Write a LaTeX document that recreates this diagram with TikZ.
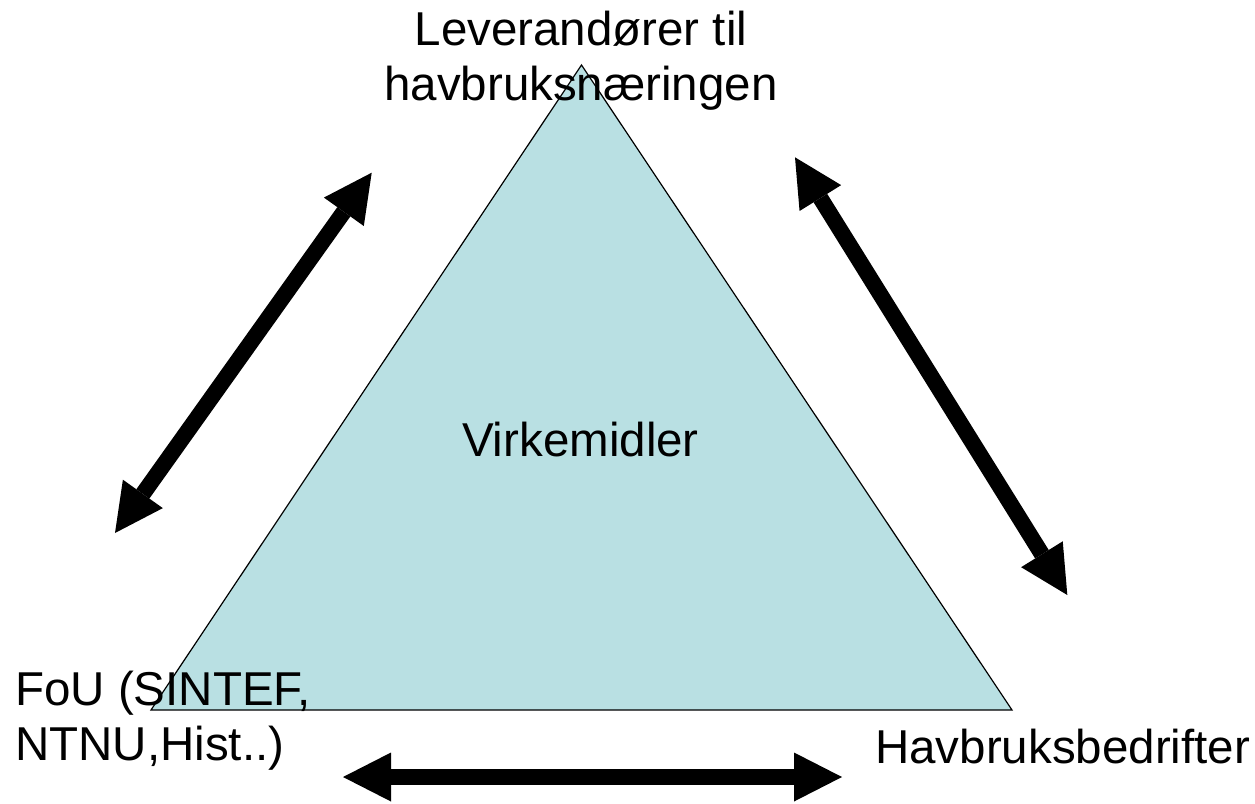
\documentclass[tikz,border=0pt]{standalone}
\usepackage{fontspec}
\setmainfont{Liberation Sans}
\usetikzlibrary{arrows.meta}
\definecolor{trifill}{RGB}{185,224,227}
\tikzset{
  lbl/.style={inner sep=0pt, font=\fontsize{47.5}{54.5}\selectfont},
  dblarrow/.style={line width=16pt,
    {Triangle[length=48pt,width=49pt,line width=0pt]}-{Triangle[length=48pt,width=49pt,line width=0pt]}},
  tri/.style={draw=black, line width=1.2pt, fill=trifill, line join=miter}
}
\begin{document}
\begin{tikzpicture}[x=1pt,y=-1pt]
\useasboundingbox (0,0) rectangle (1255,803);
% triangle
\coordinate (apex) at (581.5,65);
\coordinate (bl) at (151,710);
\coordinate (br) at (1012,710);
\draw[tri] (apex) -- (bl) -- (br) -- cycle;
% labels (base anchor of a multi-line node = baseline of its last line)
\node[lbl, anchor=base, align=center] (top) at (581,100) {Leverandører til\\havbruksnæringen};
\node[lbl, anchor=base] (mid) at (580.5,456.7) {Virkemidler};
\node[lbl, anchor=base west, align=left] (fou) at (15,760) {FoU (SINTEF,\\NTNU,Hist..)};
\node[lbl, anchor=base west] (hav) at (875,763) {Havbruksbedrifter};
% arrow end points
\coordinate (la1) at (371.7,172.7);
\coordinate (la2) at (115,533);
\coordinate (ra1) at (795,157.3);
\coordinate (ra2) at (1067.3,595);
\coordinate (ba1) at (343,777);
\coordinate (ba2) at (842,777);
\draw[dblarrow] (la2) -- (la1);
\draw[dblarrow] (ra1) -- (ra2);
\draw[dblarrow] (ba1) -- (ba2);
\end{tikzpicture}
\end{document}
